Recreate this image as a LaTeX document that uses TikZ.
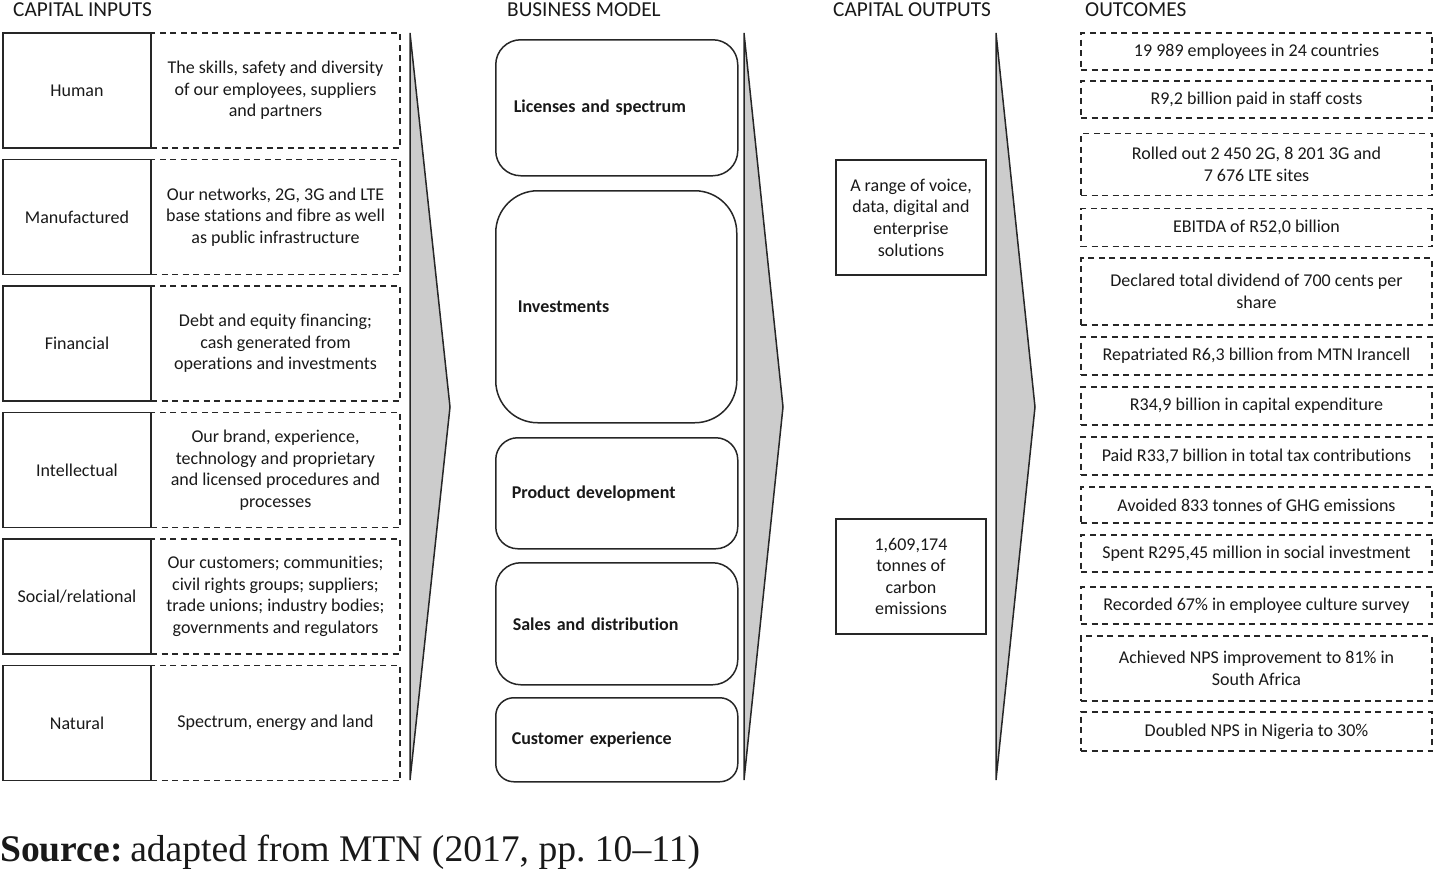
\documentclass[tikz,border=0pt]{standalone}
\usepackage{fontspec}
\setmainfont{Carlito}[Ligatures={NoCommon}]
\newfontfamily\srcfont{Liberation Serif}[Ligatures=TeX]
\begin{document}
\begin{tikzpicture}[x=1pt,y=-1pt,
  every node/.style={font=\fontsize{18}{21.6}\selectfont, text=black!90},
  ln/.style={line width=1.5pt, draw=black!85},
  dsh/.style={ln, dash pattern=on 6pt off 4.5pt},
  capbox/.style={ln, minimum width=148pt, minimum height=115pt, inner sep=0pt},
  descbox/.style={dsh, minimum width=249pt, minimum height=115pt, inner sep=0pt, align=center},
  bmbox/.style={ln, inner ysep=0pt, align=left, font=\bfseries\fontsize{18}{21.6}\selectfont},
  outbox/.style={ln, minimum width=150pt, minimum height=115pt, inner sep=0pt, align=center},
  ocbox/.style={dsh, minimum width=351pt, inner sep=0pt, align=center},
  head/.style={anchor=base west, inner sep=0pt, font=\fontsize{21.3}{25}\selectfont},
  chev/.style={ln, fill=black!20, line join=miter}
]
\useasboundingbox (0,0) rectangle (1435,868);

% headers
\node[head] (h1) at (13,16) {CAPITAL INPUTS};
\node[head] (h2) at (507,16) {BUSINESS MODEL};
\node[head] (h3) at (833,16) {CAPITAL OUTPUTS};
\node[head] (h4) at (1085,16) {OUTCOMES};

% capital inputs
\node[descbox] (d1) at (275.5,90.5) {The skills, safety and diversity\\of our employees, suppliers\\and partners};
\node[capbox] (c1) at (77,90.5) {Human};
\node[descbox] (d2) at (275.5,217) {Our networks, 2G, 3G and LTE\\base stations and fibre as well\\as public infrastructure};
\node[capbox] (c2) at (77,217) {Manufactured};
\node[descbox] (d3) at (275.5,343.5) {Debt and equity financing;\\cash generated from\\operations and investments};
\node[capbox] (c3) at (77,343.5) {Financial};
\node[descbox] (d4) at (275.5,470) {Our brand, experience,\\technology and proprietary\\and licensed procedures and\\processes};
\node[capbox] (c4) at (77,470) {Intellectual};
\node[descbox] (d5) at (275.5,596.5) {Our customers; communities;\\civil rights groups; suppliers;\\trade unions; industry bodies;\\governments and regulators};
\node[capbox] (c5) at (77,596.5) {Social/relational};
\node[descbox] (d6) at (275.5,723) {Spectrum, energy and land};
\node[capbox] (c6) at (77,723) {Natural};

% chevrons
\draw[chev] (410,33) -- (450,407) -- (410,780) -- cycle;
\draw[chev] (744,33) -- (783,407) -- (744,780) -- cycle;
\draw[chev] (996,33) -- (1035,407) -- (996,780) -- cycle;

% business model
\node[bmbox, rounded corners=25pt, inner xsep=18pt, text width=206pt, minimum height=136pt, anchor=north west] (b1) at (495,39) {Licenses and spectrum};
\node[bmbox, rounded corners=42pt, inner xsep=22pt, text width=197pt, minimum height=232pt, anchor=north west] (b2) at (495,190) {Investments};
\node[bmbox, rounded corners=22pt, inner xsep=16pt, text width=210pt, minimum height=111pt, anchor=north west] (b3) at (495,437) {Product development};
\node[bmbox, rounded corners=25pt, inner xsep=17pt, text width=208pt, minimum height=122pt, anchor=north west] (b4) at (495,562) {Sales and distribution};
\node[bmbox, rounded corners=18pt, inner xsep=16pt, text width=210pt, minimum height=84pt, anchor=north west] (b5) at (495,697) {Customer experience};

% capital outputs
\node[outbox] (o1) at (911,217.5) {A range of voice,\\data, digital and\\enterprise\\solutions};
\node[outbox] (o2) at (911,576.5) {1,609,174\\tonnes of\\carbon\\emissions};

% outcomes
\node[ocbox, minimum height=37pt] (r1) at (1256.5,51.5) {19 989 employees in 24 countries};
\node[ocbox, minimum height=37pt] (r2) at (1256.5,99.5) {R9,2 billion paid in staff costs};
\node[ocbox, minimum height=62pt] (r3) at (1256.5,164.5) {Rolled out 2 450 2G, 8 201 3G and\\7 676 LTE sites};
\node[ocbox, minimum height=38pt] (r4) at (1256.5,227.5) {EBITDA of R52,0 billion};
\node[ocbox, minimum height=67pt] (r5) at (1256.5,291.5) {Declared total dividend of 700 cents per\\share};
\node[ocbox, minimum height=38pt] (r6) at (1256.5,356) {Repatriated R6,3 billion from MTN Irancell};
\node[ocbox, minimum height=38pt] (r7) at (1256.5,406) {R34,9 billion in capital expenditure};
\node[ocbox, minimum height=38pt] (r8) at (1256.5,456) {Paid R33,7 billion in total tax contributions};
\node[ocbox, minimum height=36pt] (r9) at (1256.5,505) {Avoided 833 tonnes of GHG emissions};
\node[ocbox, minimum height=37pt] (r10) at (1256.5,553.5) {Spent R295,45 million in social investment};
\node[ocbox, minimum height=37pt] (r11) at (1256.5,605.5) {Recorded 67\% in employee culture survey};
\node[ocbox, minimum height=65pt] (r12) at (1256.5,668.5) {Achieved NPS improvement to 81\% in\\South Africa};
\node[ocbox, minimum height=39pt] (r13) at (1256.5,731.5) {Doubled NPS in Nigeria to 30\%};

% source
\node[anchor=base west, inner sep=0pt, font=\srcfont\fontsize{37.6}{41}\selectfont] (src) at (0,861) {\textbf{Source:}\hspace{0.2em}adapted from MTN (2017, pp.~10–11)};
\end{tikzpicture}
\end{document}
